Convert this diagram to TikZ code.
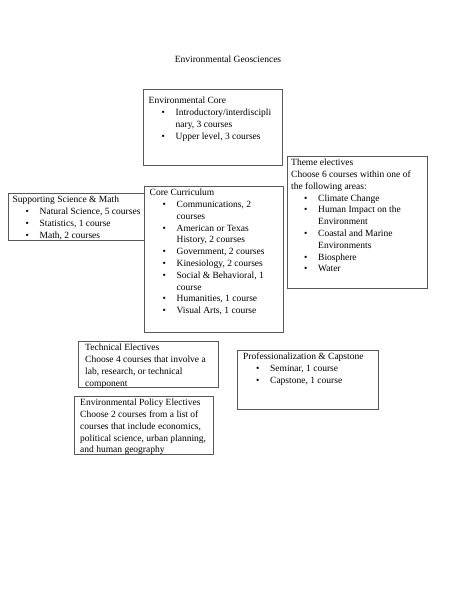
\documentclass[tikz,border=0pt]{standalone}
\usepackage{fontspec}
\setmainfont{Liberation Serif}
\usetikzlibrary{positioning}

\tikzset{
  frame/.style={draw=black!65, line width=0.8pt, inner sep=0pt, anchor=north west},
  body/.style={anchor=north west, align=left, inner xsep=5.5pt, inner ysep=3pt,
    font=\fontsize{9.5}{11.8}\selectfont},
}
\newcommand{\bul}{\hspace*{13pt}\makebox[14pt][l]{\textbullet}}
\newcommand{\cont}{\hspace*{27pt}}

\begin{document}
\begin{tikzpicture}[x=1pt,y=-1pt]
    \useasboundingbox (0,0) rectangle (456,590);
    \node[font=\fontsize{9.5}{11.8}\selectfont] (title) at (228,59) {Environmental Geosciences};

    % boxes
    \node[frame, minimum width=139pt, minimum height=76pt] (envcore) at (143,89) {};
    \node[frame, minimum width=140pt, minimum height=132pt] (theme) at (287,156) {};
    \node[frame, minimum width=136pt, minimum height=47pt] (support) at (8,193) {};
    \node[frame, minimum width=139pt, minimum height=146pt] (core) at (144,186) {};
    \node[frame, minimum width=140pt, minimum height=46pt] (tech) at (78,341) {};
    \node[frame, minimum width=141pt, minimum height=59pt] (prof) at (237,350) {};
    \node[frame, minimum width=139pt, minimum height=58pt] (policy) at (74,396) {};

    % texts
    \node[body, inner ysep=8pt] (envcoretxt) at (envcore.north west) {Environmental Core\\
      \bul Introductory/interdiscipli\\ \cont nary, 3 courses\\
      \bul Upper level, 3 courses};
    \node[body, inner xsep=4pt] (themetxt) at (theme.north west) {Theme electives\\
      Choose 6 courses within one of\\ the following areas:\\
      \bul Climate Change\\ \bul Human Impact on the\\ \cont Environment\\
      \bul Coastal and Marine\\ \cont Environments\\ \bul Biosphere\\ \bul Water};
    \node[body, inner xsep=4.5pt] (supporttxt) at (support.north west) {Supporting Science \& Math\\
      \bul Natural Science, 5 courses\\ \bul Statistics, 1 course\\ \bul Math, 2 courses};
    \node[body] (coretxt) at (core.north west) {Core Curriculum\\
      \bul Communications, 2\\ \cont courses\\
      \bul American or Texas\\ \cont History, 2 courses\\
      \bul Government, 2 courses\\ \bul Kinesiology, 2 courses\\
      \bul Social \& Behavioral, 1\\ \cont course\\
      \bul Humanities, 1 course\\ \bul Visual Arts, 1 course};
    \node[body, inner xsep=7pt] (techtxt) at (tech.north west) {Technical Electives\\
      Choose 4 courses that involve a\\ lab, research, or technical\\ component};
    \node[body, inner xsep=6pt] (proftxt) at (prof.north west) {Professionalization \& Capstone\\
      \bul Seminar, 1 course\\ \bul Capstone, 1 course};
    \node[body, inner xsep=6pt] (policytxt) at (policy.north west) {Environmental Policy Electives\\
      Choose 2 courses from a list of\\ courses that include economics,\\
      political science, urban planning,\\ and human geography};
\end{tikzpicture}
\end{document}
